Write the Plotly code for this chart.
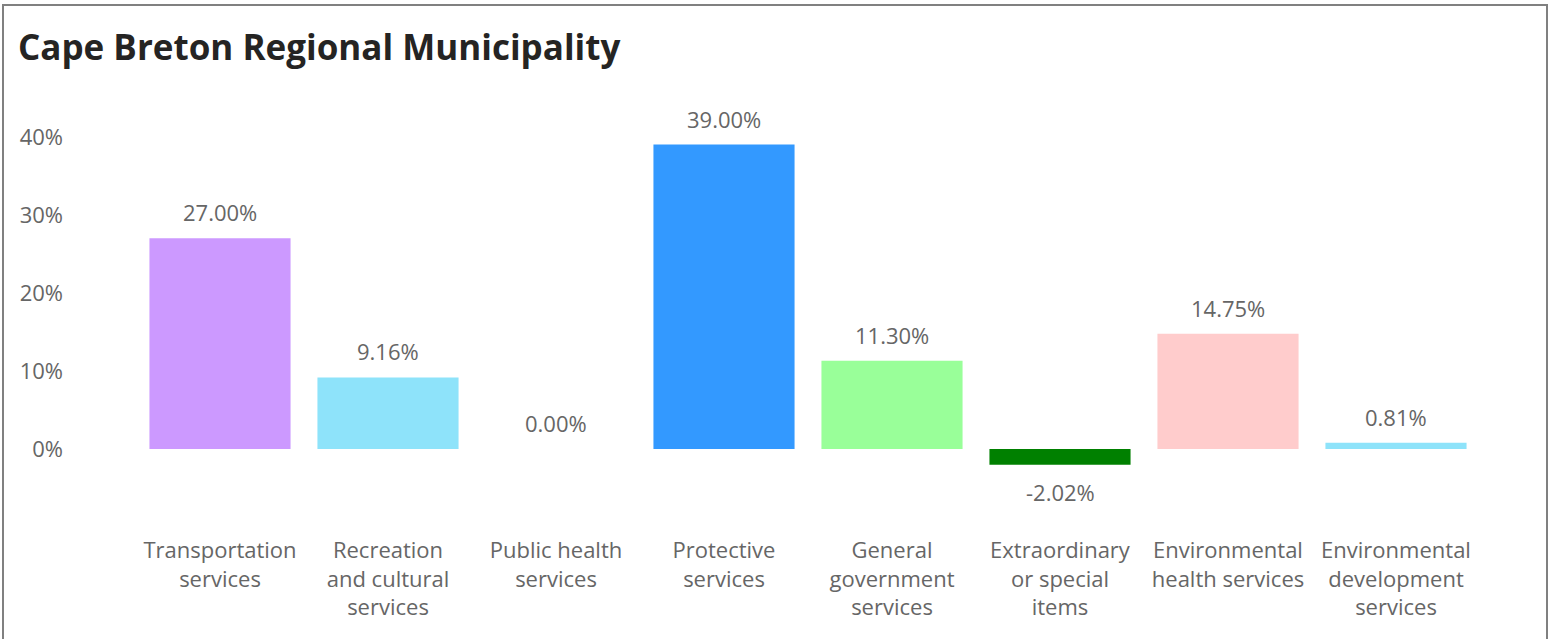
import plotly.graph_objects as go

categories = [
    "Transportation<br>services",
    "Recreation<br>and cultural<br>services",
    "Public health<br>services",
    "Protective<br>services",
    "General<br>government<br>services",
    "Extraordinary<br>or special<br>items",
    "Environmental<br>health services",
    "Environmental<br>development<br>services",
]
values = [27.00, 9.16, 0.00, 39.00, 11.30, -2.02, 14.75, 0.81]
colors = ["#CC99FF", "#8EE3FA", "#8EE3FA", "#3399FF", "#99FF99", "#008000", "#FFCCCC", "#8EE3FA"]
y_ticks = [0, 10, 20, 30, 40]
y_tick_labels = ["0%", "10%", "20%", "30%", "40%"]

W, H = 1556, 639
ML, MR, MT, MB = 136, 76, 129, 112
YMIN, YMAX = -10, 41

FONT = "Open Sans"
GRAY = "#666666"

fig = go.Figure(go.Bar(
    x=categories, y=values,
    marker=dict(color=colors, line=dict(width=0)),
    hoverinfo="skip",
))

annotations = []
for c, v in zip(categories, values):
    annotations.append(dict(
        x=c, y=v, xref="x", yref="y",
        text=f"{v:.2f}%", showarrow=False,
        yanchor="middle", yshift=26 if v >= 0 else -27,
        font=dict(family=FONT, size=22, color=GRAY),
    ))

pw = W - ML - MR
ph = H - MT - MB
def px_x(p):
    return (p - ML) / pw
def px_y(p):
    return (H - MB - p) / ph

fig.update_layout(
    width=W, height=H,
    margin=dict(l=ML, r=MR, t=MT, b=MB, pad=0),
    paper_bgcolor="white", plot_bgcolor="white",
    showlegend=False,
    bargap=0.16,
    title=dict(
        text="<b>Cape Breton Regional Municipality</b>",
        x=18 / W, xanchor="left", xref="container",
        y=1 - 48 / H, yanchor="middle", yref="container",
        font=dict(family=FONT, size=35, color="#252423"),
    ),
    xaxis=dict(
        showgrid=False, zeroline=False, showline=False, ticks="",
        tickfont=dict(family=FONT, size=22, color=GRAY),
        ticklabelstandoff=8, tickangle=0,
    ),
    yaxis=dict(
        range=[YMIN, YMAX], showgrid=False, zeroline=False, showline=False, ticks="",
        tickvals=y_ticks, ticktext=y_tick_labels,
        tickfont=dict(family=FONT, size=22, color=GRAY),
        ticklabelstandoff=72,
    ),
    annotations=annotations,
    shapes=[dict(
        type="rect", xref="paper", yref="paper",
        x0=px_x(3), x1=px_x(1547), y0=px_y(660), y1=px_y(5),
        line=dict(color="#808080", width=2), fillcolor="rgba(0,0,0,0)",
        layer="above",
    )],
)

fig.write_html(
    "out.html",
    config={"displayModeBar": False},
    post_script="document.body.style.margin='0';document.body.style.overflow='hidden';",
)
